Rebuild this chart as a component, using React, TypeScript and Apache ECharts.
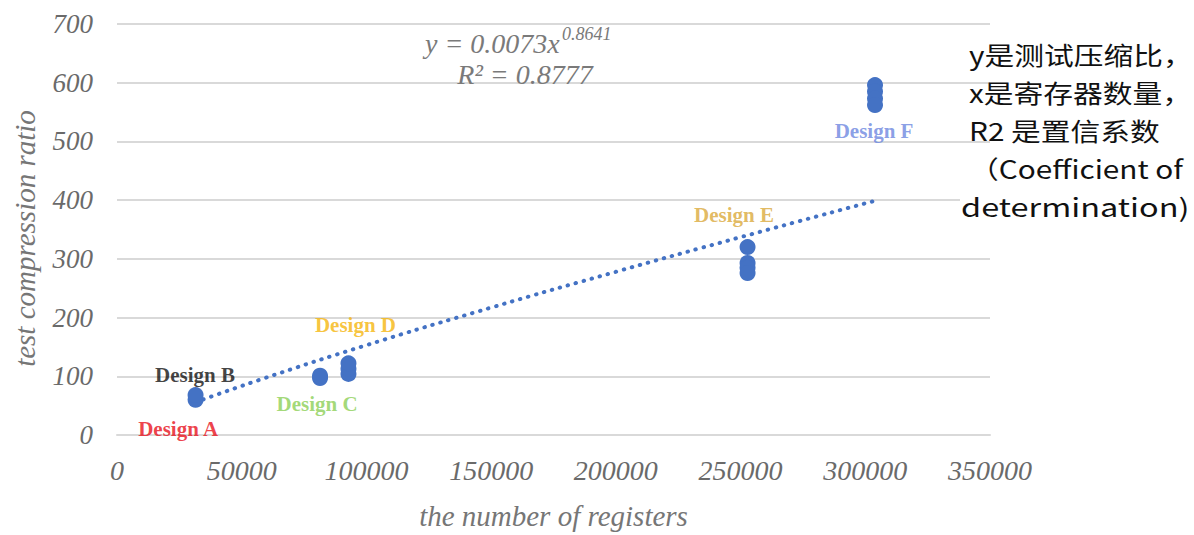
import React, { useEffect, useRef } from "react";
import * as echarts from "echarts";

// ---- data ----
const xTickValues = [0, 50000, 100000, 150000, 200000, 250000, 300000, 350000];
const yTickValues = [0, 100, 200, 300, 400, 500, 600, 700];

// measured designs: [number of registers, test compression ratio]
const measuredPoints: [number, number][] = [
  [31500, 60], [31500, 68],
  [81400, 97], [81400, 101],
  [92800, 104], [92800, 113], [92800, 122],
  [252800, 320], [252800, 293], [252800, 285], [252800, 276],
  [303900, 596], [303900, 585], [303900, 573], [303900, 562],
];

// power trendline (y = 0.0073x^0.8641)
const trendPoints: [number, number][] = [
  [31500, 56], [60000, 98], [100000, 153], [150000, 217],
  [200000, 278], [250000, 337], [303900, 399],
];

const designNames = ["Design A", "Design B", "Design C", "Design D", "Design E", "Design F"];
const designColors = ["#e8101a", "#111111", "#8bcf55", "#f5b50c", "#daa93a", "#6c86e0"];
const designLabelAnchors: [number, number][] = [
  [24500, 11], [31300, 103], [80200, 53], [95600, 187], [247400, 374], [303500, 517],
];

const equationMain = "y = 0.0073x";
const equationExp = "0.8641";
const equationR2 = "R² = 0.8777";

const annotationLines = [
  "y是测试压缩比，",
  "x是寄存器数量，",
  "R2 是置信系数",
  "（Coefficient of",
  "determination)",
];

const SERIF = "'Liberation Serif', 'Times New Roman', serif";
const SANS = "'Noto Sans CJK SC', 'Noto Sans', sans-serif";

export default function App() {
  const ref = useRef<HTMLDivElement>(null);

  useEffect(() => {
    if (!ref.current) return;
    const chart = echarts.init(ref.current, null, { renderer: "svg" });

    const annotationX = [969, 969, 969, 969, 961];
    const annotationY = [54, 92, 130, 168, 206];
    const annotationScale = [1.19, 1.19, 1.19, 1.19, 1.3];

    const option: any = {
      animation: false,
      backgroundColor: "#ffffff",
      grid: { left: 117, right: 204, top: 24, bottom: 90, containLabel: false },
      xAxis: {
        type: "value",
        min: 0,
        max: 350000,
        interval: 50000,
        name: "the number of registers",
        nameLocation: "middle",
        nameGap: 66,
        nameTextStyle: { fontFamily: SERIF, fontStyle: "italic", fontSize: 29, color: "#767676" },
        axisLine: { show: true, lineStyle: { color: "#d9d9d9", width: 2 } },
        axisTick: { show: false },
        splitLine: { show: false },
        axisLabel: {
          margin: 21,
          fontFamily: SERIF,
          fontStyle: "italic",
          fontSize: 28,
          color: "#6a6a6a",
          formatter: (v: number) => (xTickValues.includes(v) ? String(v) : ""),
        },
      },
      yAxis: {
        type: "value",
        min: 0,
        max: 700,
        interval: 100,
        name: "test compression ratio",
        nameLocation: "middle",
        nameGap: 78,
        nameTextStyle: {
          fontFamily: SERIF,
          fontStyle: "italic",
          fontSize: 29,
          color: "#767676",
          padding: [0, 18, 0, 0],
        },
        axisLine: { show: false },
        axisTick: { show: false },
        splitLine: { show: true, lineStyle: { color: "#d9d9d9", width: 2 } },
        axisLabel: {
          margin: 24,
          fontFamily: SERIF,
          fontStyle: "italic",
          fontSize: 27,
          color: "#6a6a6a",
          formatter: (v: number) => (yTickValues.includes(v) ? String(v) : ""),
        },
      },
      series: [
        {
          name: "trendline",
          type: "line",
          data: trendPoints,
          smooth: true,
          showSymbol: false,
          z: 2,
          lineStyle: { color: "#4472c4", width: 4, type: [0.5, 7.8], cap: "round" },
        },
        {
          name: "designs",
          type: "scatter",
          data: measuredPoints,
          symbol: "circle",
          symbolSize: 16,
          z: 3,
          itemStyle: { color: "#4472c4", opacity: 1 },
        },
        {
          name: "design labels",
          type: "scatter",
          symbolSize: 1,
          z: 4,
          itemStyle: { color: "rgba(0,0,0,0)" },
          data: designLabelAnchors.map((p, i) => ({
            value: p,
            name: designNames[i],
            label: { color: designColors[i] },
          })),
          label: {
            show: true,
            position: "inside",
            formatter: (p: any) => p.name,
            fontFamily: SERIF,
            fontWeight: "bold",
            fontSize: 21,
          },
        },
      ],
      graphic: [
        {
          type: "text",
          x: 425,
          y: 43,
          z: 10,
          style: {
            text: equationMain,
            font: `italic 28px ${SERIF}`,
            fill: "#7a7a7a",
            align: "left",
            verticalAlign: "middle",
          },
        },
        {
          type: "text",
          x: 562,
          y: 34,
          z: 10,
          style: {
            text: equationExp,
            font: `italic 18px ${SERIF}`,
            fill: "#7a7a7a",
            align: "left",
            verticalAlign: "middle",
          },
        },
        {
          type: "text",
          x: 525,
          y: 74,
          z: 10,
          style: {
            text: equationR2,
            font: `italic 28px ${SERIF}`,
            fill: "#7a7a7a",
            align: "center",
            verticalAlign: "middle",
          },
        },
        {
          type: "rect",
          z: 9,
          shape: { x: 960, y: 190, width: 234, height: 30 },
          style: { fill: "#ffffff" },
        },
        ...annotationLines.map((t, i) => ({
          type: "text",
          x: annotationX[i],
          y: annotationY[i],
          scaleX: annotationScale[i],
          z: 10,
          style: {
            text: t,
            font: `25px ${SANS}`,
            fill: "#111111",
            align: "left",
            verticalAlign: "middle",
          },
        })),
      ],
    };

    chart.setOption(option);
    return () => chart.dispose();
  }, []);

  return (
    <div
      ref={ref}
      style={{ position: "absolute", left: 0, top: 0, width: 1194, height: 535 }}
    />
  );
}
